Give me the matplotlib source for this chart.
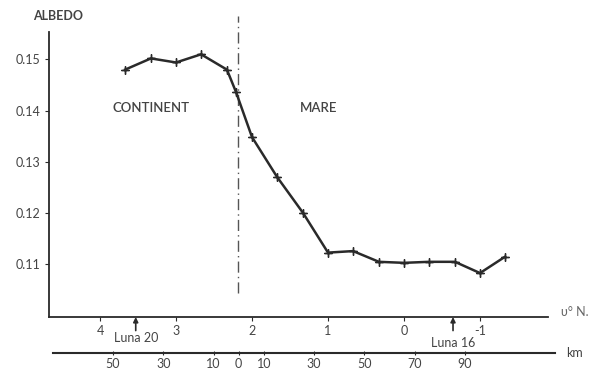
import matplotlib
matplotlib.use("Agg")
import matplotlib.pyplot as plt
from matplotlib.ticker import FuncFormatter

plt.rcParams['font.family'] = ['Lato', 'DejaVu Sans']

# latitude (deg N) and albedo
lat = [3.67, 3.33, 3.0, 2.67, 2.33, 2.21, 2.0, 1.67, 1.33, 1.0, 0.67, 0.33, 0.0,
       -0.33, -0.67, -1.0, -1.33]
albedo = [0.1480, 0.1502, 0.1494, 0.1510, 0.1480, 0.1436, 0.1348, 0.1270, 0.1200,
          0.1122, 0.1125, 0.1104, 0.1102, 0.1104, 0.1104, 0.1082, 0.1114]

lat_ticks = [4, 3, 2, 1, 0, -1]
km_ticks = [-50, -30, -10, 0, 10, 30, 50, 70, 90]
albedo_ticks = [0.11, 0.12, 0.13, 0.14, 0.15]

boundary_lat = 2.18
luna_names = ["Luna 20", "Luna 16"]
luna_lat = [3.53, -0.645]

ink = '#2a2a2a'
txt = '#444444'
fs = 9

fig = plt.figure(figsize=(5.92, 3.70), dpi=100)
ax = fig.add_axes([0.0828, 0.1432, 0.8429, 0.8136])

ax.plot(lat, albedo, color=ink, lw=1.8, marker=(4, 2, 0), ms=6, mew=1.0,
        mec=ink, zorder=3)

ax.set_xlim(4.671, -1.895)
ax.set_ylim(0.0996, 0.1585)
for s in ['top', 'right']:
    ax.spines[s].set_visible(False)
ax.spines['left'].set_bounds(0.0996, 0.1553)
for s in ['left', 'bottom']:
    ax.spines[s].set_color(ink)
    ax.spines[s].set_linewidth(1.3)

ax.set_xticks(lat_ticks)
ax.set_xticklabels([str(t) for t in lat_ticks])
ax.set_yticks(albedo_ticks)
ax.set_yticklabels(['%.2f' % t for t in albedo_ticks])
ax.tick_params(axis='both', length=3, width=0.8, color=ink, labelsize=fs,
               labelcolor=txt, pad=3)

# continent / mare boundary
ax.axvline(boundary_lat, ymin=(0.1043 - 0.0996) / (0.1585 - 0.0996), ymax=1,
           color='#555555', lw=1.0, ls=(0, (8, 3, 1, 3)))

fig.text(58 / 592, 1 - 16 / 370, 'ALBEDO', fontsize=fs, color=txt,
         fontweight='bold', ha='center', va='center')
ax.text(3.33, 0.1405, 'CONTINENT', fontsize=9.5, color=txt, fontweight='semibold',
        ha='center', va='center')
ax.text(1.12, 0.1405, 'MARE', fontsize=9.5, color=txt, fontweight='semibold',
        ha='center', va='center')

for x in luna_lat:
    ax.annotate('', xy=(x, 0.0996), xycoords=('data', 'data'),
                xytext=(x, -0.045), textcoords=('data', 'axes fraction'),
                arrowprops=dict(arrowstyle='-|>', color=ink, lw=1.2,
                                mutation_scale=7, shrinkA=0, shrinkB=0),
                annotation_clip=False)
for name, x, y in zip(luna_names, luna_lat, [-0.070, -0.086]):
    ax.text(x, y, name, transform=ax.get_xaxis_transform(),
            fontsize=fs, color=txt, ha='center', va='center')

fig.text(0.948, 1 - 312 / 370, '\u03c5\u00b0 N.', fontsize=fs, color='#666666',
         ha='left', va='center')

# km scale below
kx = fig.add_axes([53 / 592, 1 - 353 / 370, (555 - 53) / 592, 0.001])
kx.set_xlim(-73.9, 125.9)
kx.set_yticks([])
for s in ['left', 'right', 'bottom']:
    kx.spines[s].set_visible(False)
kx.spines['top'].set_color(ink)
kx.spines['top'].set_linewidth(1.5)
kx.patch.set_visible(False)
kx.set_xticks(km_ticks)
kx.xaxis.set_major_formatter(FuncFormatter(lambda v, p: '%d' % abs(v)))
kx.tick_params(axis='x', direction='inout', length=3, width=0.8, color=ink,
               labelsize=fs, labelcolor=txt, pad=2)
fig.text(566 / 592, 1 - 353 / 370, 'km', fontsize=fs, color=txt,
         ha='left', va='center')

fig.savefig('out.png', dpi=100, facecolor='white')
